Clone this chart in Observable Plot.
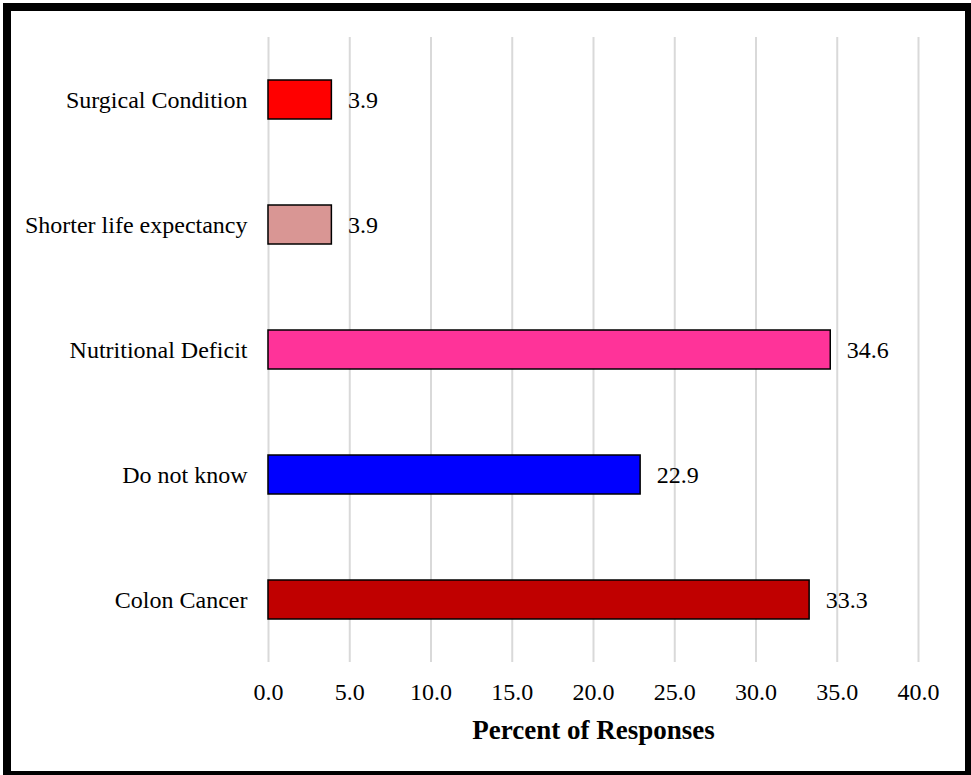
<!DOCTYPE html>
<html>
<head>
<meta charset="utf-8">
<script src="https://cdn.jsdelivr.net/npm/d3@7"></script>
<script src="https://cdn.jsdelivr.net/npm/@observablehq/plot@0.6"></script>
<style>
  html, body { margin: 0; padding: 0; background: #fff; }
  #wrap { position: relative; width: 971px; height: 775px; overflow: hidden; }
  #frame {
    position: absolute; left: 3px; top: 3px; width: 970px; height: 776px;
    box-sizing: border-box; border: 8px solid #000; pointer-events: none;
  }
  #chart { position: absolute; left: 0; top: 0; }
  #chart svg { font-family: "Liberation Serif", "Times New Roman", serif; }
  #chart g[aria-label="x-axis label"] text { font-weight: bold; font-size: 27px; }
</style>
</head>
<body>
<div id="wrap">
  <div id="chart"></div>
  <div id="frame"></div>
</div>
<script>
// Perceived consequences, percent of responses (top to bottom)
const categories = ["Surgical Condition", "Shorter life expectancy", "Nutritional Deficit", "Do not know", "Colon Cancer"];
const percents = [3.9, 3.9, 34.6, 22.9, 33.3];
const barColors = ["#FF0000", "#D99694", "#FF3399", "#0000FF", "#C00000"];
const xTicks = [0, 5, 10, 15, 20, 25, 30, 35, 40];

const rows = categories.map((c, i) => ({category: c, value: percents[i], color: barColors[i]}));

const chart = Plot.plot({
  width: 971,
  height: 775,
  marginLeft: 268,
  marginRight: 53,
  marginTop: 37,
  marginBottom: 113,
  style: {fontSize: "24px", color: "#000", background: "transparent"},
  x: {domain: [0, 40]},
  y: {domain: categories, paddingInner: 0.69, paddingOuter: 0.345, align: 0.5},
  marks: [
    Plot.gridX(xTicks, {stroke: "#d9d9d9", strokeOpacity: 1, strokeWidth: 2}),
    Plot.barX(rows, {x: "value", y: "category", fill: "color", stroke: "#000", strokeWidth: 1.5}),
    Plot.text(rows, {x: "value", y: "category", text: d => d.value.toFixed(1), dx: 16, textAnchor: "start", fontSize: 24, fill: "#000"}),
    Plot.axisX({ticks: xTicks, tickSize: 0, tickPadding: 20, tickFormat: d => d.toFixed(1), fontSize: 24,
      label: "Percent of Responses", labelAnchor: "center", labelArrow: false, labelOffset: 76}),
    Plot.axisY({tickSize: 0, tickPadding: 21, fontSize: 24, label: null})
  ]
});
document.getElementById("chart").appendChild(chart);
</script>
</body>
</html>
